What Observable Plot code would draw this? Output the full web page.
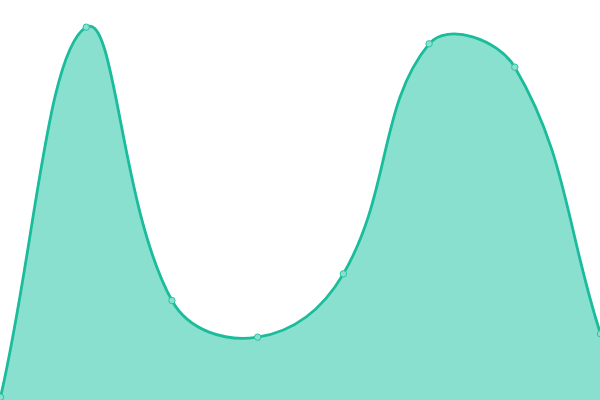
<!DOCTYPE html>
<html>
<head>
<meta charset="utf-8">
<script src="https://cdn.jsdelivr.net/npm/d3@7"></script>
<script src="https://cdn.jsdelivr.net/npm/@observablehq/plot@0.6"></script>
<style>
  html, body { margin: 0; padding: 0; background: #fff; }
  #chart svg { display: block; }
</style>
</head>
<body>
<div id="chart"></div>
<script>
const xIndex = [0, 1, 2, 3, 4, 5, 6, 7];
const values = [2.5, 280, 75, 47.5, 95, 267.5, 250, 50];

const data = xIndex.map((x, i) => ({x, y: values[i]}));

// Tension-based bezier spline (control points from neighbours, scaled by distances)
function tensionCurve(t) {
  return function(context) {
    let pts = [];
    return {
      _line: undefined,
      areaStart() { this._line = 0; },
      areaEnd() { this._line = NaN; },
      lineStart() { pts = []; },
      point(x, y) { pts.push([+x, +y]); },
      lineEnd() {
        const n = pts.length;
        if (n) {
          if (this._line) context.lineTo(pts[0][0], pts[0][1]);
          else context.moveTo(pts[0][0], pts[0][1]);
          const cps = pts.map((p, i) => {
            const prev = pts[i - 1] || p, next = pts[i + 1] || p;
            const d01 = Math.hypot(p[0] - prev[0], p[1] - prev[1]);
            const d12 = Math.hypot(next[0] - p[0], next[1] - p[1]);
            let s01 = d01 / (d01 + d12), s12 = d12 / (d01 + d12);
            if (isNaN(s01)) s01 = 0;
            if (isNaN(s12)) s12 = 0;
            const fa = t * s01, fb = t * s12;
            return {
              prev: [p[0] - fa * (next[0] - prev[0]), p[1] - fa * (next[1] - prev[1])],
              next: [p[0] + fb * (next[0] - prev[0]), p[1] + fb * (next[1] - prev[1])]
            };
          });
          for (let i = 1; i < n; i++) {
            const a = cps[i - 1].next, b = cps[i].prev;
            context.bezierCurveTo(a[0], a[1], b[0], b[1], pts[i][0], pts[i][1]);
          }
        }
        if (this._line || (this._line !== 0 && n === 1)) context.closePath();
        this._line = 1 - this._line;
      }
    };
  };
}
const curve = tensionCurve(0.4);

const chart = Plot.plot({
  width: 600,
  height: 400,
  margin: 0,
  x: {domain: [0, 7], range: [0, 600], axis: null},
  y: {domain: [0, 300], range: [400, 0], axis: null},
  marks: [
    Plot.areaY(data, {x: "x", y: "y", curve, fill: "#89e0cf"}),
    Plot.lineY(data, {x: "x", y: "y", curve, stroke: "#1abc9c", strokeWidth: 2.8}),
    Plot.dot(data, {x: "x", y: "y", r: 3.2, fill: "#89e0cf", stroke: "#2cc2a3", strokeWidth: 1})
  ]
});
document.getElementById("chart").appendChild(chart);
</script>
</body>
</html>
